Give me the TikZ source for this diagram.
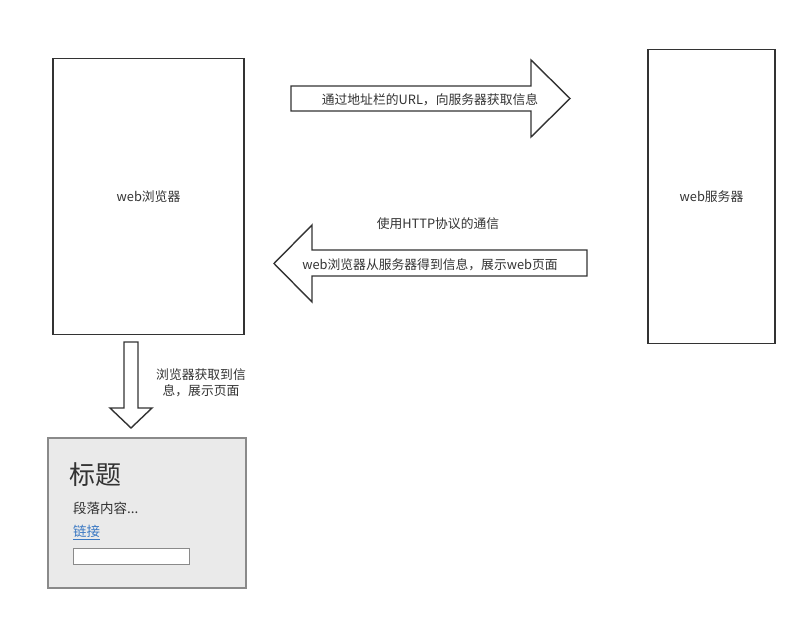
\documentclass[tikz,border=0pt]{standalone}
\usepackage{fontspec}
\setmainfont{Noto Sans CJK SC}
\usepackage{xcolor}
\usetikzlibrary{positioning}
\definecolor{inkgray}{HTML}{333333}
\definecolor{pagegray}{HTML}{EAEAEA}
\definecolor{rimgray}{HTML}{8A8A8A}
\definecolor{linkblue}{HTML}{3A78C3}
\tikzset{
  panel/.style={draw=inkgray, line width=1.4pt, fill=white, align=center, inner sep=0pt},
  blockarrow/.style={draw=inkgray, line width=1.4pt, fill=white, line join=miter},
  caption/.style={text=inkgray, font=\fontsize{12.8}{15}\selectfont, inner sep=1pt, align=center}
}
\begin{document}
\begin{tikzpicture}[x=1pt, y=-1pt]
  \useasboundingbox (0,0) rectangle (807,620);
  % endpoints
  \node[panel, minimum width=191pt, minimum height=276pt, caption] (browser) at (148.5,196.5) {web浏览器};
  \node[panel, minimum width=127pt, minimum height=294pt, caption] (server) at (711.5,196.5) {web服务器};

  % request arrow
  \draw[blockarrow] (291,86) -- (531,86) -- (531,60) -- (570,98.5) -- (531,137) -- (531,111) -- (291,111) -- cycle;
  \node[caption] (request) at (430,99.5) {通过地址栏的URL，向服务器获取信息};

  % response arrow
  \node[caption] (http) at (438,224) {使用HTTP协议的通信};
  \draw[blockarrow] (587,250) -- (312,250) -- (312,225) -- (274,263.5) -- (312,302) -- (312,276) -- (587,276) -- cycle;
  \node[caption] (response) at (430,265) {web浏览器从服务器得到信息，展示web页面};

  % render arrow
  \draw[blockarrow] (124,342) -- (138,342) -- (138,408) -- (152,408) -- (131,428) -- (110,408) -- (124,408) -- cycle;
  \node[caption, font=\fontsize{12.8}{15.5}\selectfont] (render) at (201,383) {浏览器获取到信\\息，展示页面};

  % rendered page
  \node[draw=rimgray, fill=pagegray, line width=1.4pt, minimum width=198pt, minimum height=150pt, inner sep=0pt] (page) at (147,513) {};
  \node[anchor=west, text=inkgray, font=\fontsize{26}{28}\selectfont, inner sep=0pt] (title) at (69,475) {标题};
  \node[anchor=west, text=inkgray, font=\fontsize{13.5}{15}\selectfont, inner sep=0pt] (para) at (73,508) {段落内容...};
  \node[anchor=west, text=linkblue, font=\fontsize{13.5}{15}\selectfont, inner sep=0pt] (link) at (73,532.5) {\underline{链接}};
  \node[draw=rimgray, fill=white, line width=0.8pt, minimum width=116pt, minimum height=16pt, inner sep=0pt] (field) at (131,556) {};
\end{tikzpicture}
\end{document}
